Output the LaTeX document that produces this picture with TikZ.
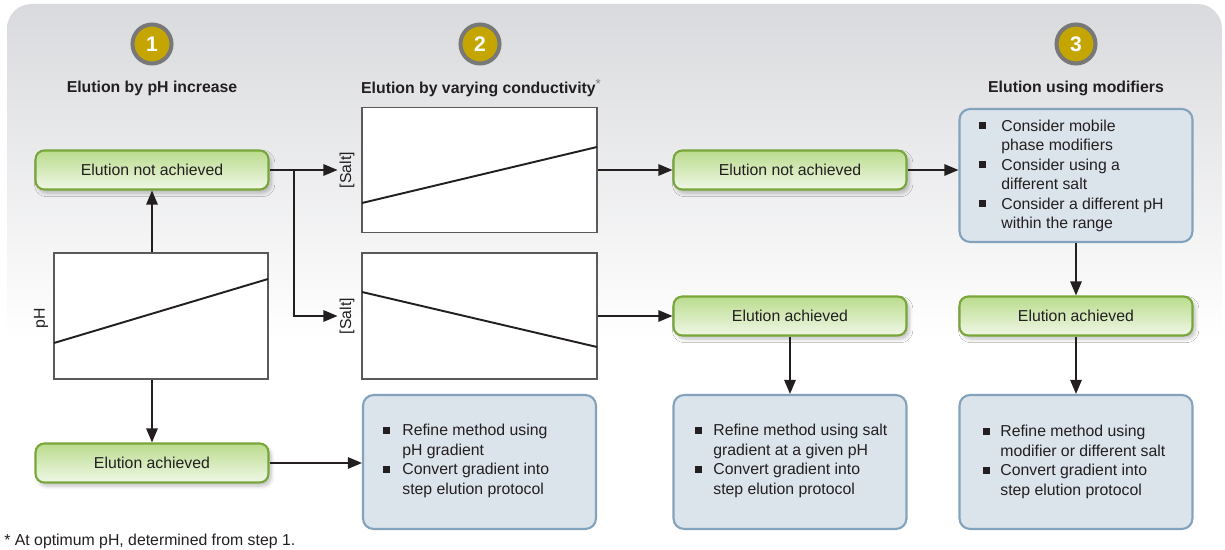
\documentclass[tikz,border=0pt]{standalone}
\usepackage{fontspec}
\setmainfont{Liberation Sans}
\usetikzlibrary{arrows.meta,shadows.blur}
\definecolor{panelgray}{RGB}{217,218,221}
\definecolor{txt}{RGB}{35,31,32}
\definecolor{gold}{RGB}{197,165,0}
\definecolor{ring}{RGB}{120,120,120}
\definecolor{gborder}{RGB}{121,166,58}
\definecolor{gtop}{RGB}{186,220,141}
\definecolor{gbot}{RGB}{240,247,231}
\definecolor{bborder}{RGB}{131,163,188}
\definecolor{bfill}{RGB}{220,228,235}
\definecolor{chartline}{RGB}{90,90,90}
\pgfdeclareverticalshading{panelshade}{100bp}{color(0bp)=(white); color(29bp)=(white); color(75bp)=(panelgray); color(100bp)=(panelgray)}
\newcommand{\sqb}{\raisebox{1.2pt}{\rule{3.8pt}{3.8pt}}}
\tikzset{
  base/.style={font=\fontsize{9}{11.1}\selectfont, text=txt},
  numcirc/.style={circle, fill=gold, draw=ring, line width=2.3pt, minimum size=0.78cm, inner sep=0pt, text=white, font=\bfseries\fontsize{12}{14}\selectfont},
  title/.style={base, font=\bfseries\fontsize{9}{11.1}\selectfont},
  greenbox/.style={base, draw=gborder, line width=1.2pt, rounded corners=5pt, top color=gtop, bottom color=gbot, minimum width=4.66cm, minimum height=0.78cm, inner sep=0pt,
     blur shadow={shadow xshift=1.5pt, shadow yshift=-2pt, shadow blur steps=6, shadow opacity=25}},
  bluebox/.style={draw=bborder, line width=1.2pt, rounded corners=6pt, fill=bfill, minimum width=4.66cm, inner sep=0pt},
  chart/.style={draw=chartline, line width=0.6pt, fill=white, inner sep=0pt},
  curve/.style={draw=txt, line width=1.1pt},
  axlab/.style={base, rotate=90, inner sep=1pt},
  listtxt/.style={base, inner sep=0pt, anchor=west},
  arr/.style={draw=txt, line width=0.9pt, -{Triangle[length=8pt,width=6.5pt]}},
  conn/.style={draw=txt, line width=0.9pt}
}
\begin{document}
\begin{tikzpicture}[x=0.02cm, y=-0.02cm]
\useasboundingbox (0,0) rectangle (1225,550);
\shade[shading=panelshade, rounded corners=14pt] (7,4) rectangle (1222,368);

% numbered circles and titles
\node[numcirc] (n1) at (152,44) {1};
\node[numcirc] (n2) at (480,44) {2};
\node[numcirc] (n3) at (1076,44) {3};
\node[title] (t1) at (152,88) {Elution by pH increase};
\node[title] (t2) at (481,88) {Elution by varying conductivity\raisebox{3.2pt}{\mdseries\fontsize{7.5}{8}\selectfont\color{ring}*}};
\node[title] (t3) at (1076,88) {Elution using modifiers};

% charts
\node[chart, minimum width=4.28cm, minimum height=2.52cm] (c1) at (161,316) {};
\node[chart, minimum width=4.7cm, minimum height=2.5cm] (c2) at (479.5,170) {};
\node[chart, minimum width=4.7cm, minimum height=2.52cm] (c3) at (479.5,316) {};
\draw[curve] (54,343) -- (268,279);
\draw[curve] (362,203) -- (597,147);
\draw[curve] (362,292) -- (597,347);
\node[axlab] (lph) at (41,318) {pH};
\node[axlab] (s1) at (347,170) {[Salt]};
\node[axlab] (s2) at (347,316) {[Salt]};

% green boxes
\node[greenbox] (g1) at (152,170) {Elution not achieved};
\node[greenbox] (g2) at (152,463) {Elution achieved};
\node[greenbox] (g3) at (790,170) {Elution not achieved};
\node[greenbox] (g4) at (790,316) {Elution achieved};
\node[greenbox] (g5) at (1076,316) {Elution achieved};

% blue boxes
\node[bluebox, minimum height=2.66cm] (b1) at (1076,175.5) {};
\node[bluebox, minimum height=2.68cm] (b2) at (479.5,462) {};
\node[bluebox, minimum height=2.68cm] (b3) at (790,462) {};
\node[bluebox, minimum height=2.68cm] (b4) at (1076,462) {};

\node[listtxt] (l1) at (979,176) {\begin{tabular}{@{}p{0.44cm}@{}l@{}}
\sqb & Consider mobile\\ & phase modifiers\\
\sqb & Consider using a\\ & different salt\\
\sqb & Consider a different pH\\ & within the range\end{tabular}};
\node[listtxt] (l2) at (383,461) {\begin{tabular}{@{}p{0.38cm}@{}l@{}}
\sqb & Refine method using\\ & pH gradient\\
\sqb & Convert gradient into\\ & step elution protocol\end{tabular}};
\node[listtxt] (l3) at (695,461) {\begin{tabular}{@{}p{0.36cm}@{}l@{}}
\sqb & Refine method using salt\\ & gradient at a given pH\\
\sqb & Convert gradient into\\ & step elution protocol\end{tabular}};
\node[listtxt] (l4) at (983,462) {\begin{tabular}{@{}p{0.34cm}@{}l@{}}
\sqb & Refine method using\\ & modifier or different salt\\
\sqb & Convert gradient into\\ & step elution protocol\end{tabular}};

% connectors
\coordinate (j) at (294,170);
\draw[arr] (g1.south |- c1.north) -- (g1.south);
\draw[arr] (g2.north |- c1.south) -- (g2.north);
\draw[arr] (g1.east) -- (s1.north);
\draw[arr] (j) |- (s2.north);
\draw[arr] (g2.east) -- (g2.east -| b2.west);
\draw[arr] (c2.east) -- (g3.west);
\draw[arr] (c3.east) -- (g4.west);
\draw[arr] (g3.east) -- (g3.east -| b1.west);
\draw[arr] (b1.south) -- (g5.north);
\draw[arr] (g4.south) -- (b3.north);
\draw[arr] (g5.south) -- (b4.north);

% footnote
\node[base, anchor=west, inner sep=0pt] (fn) at (4,541) {* At optimum pH, determined from step 1.};
\end{tikzpicture}
\end{document}
